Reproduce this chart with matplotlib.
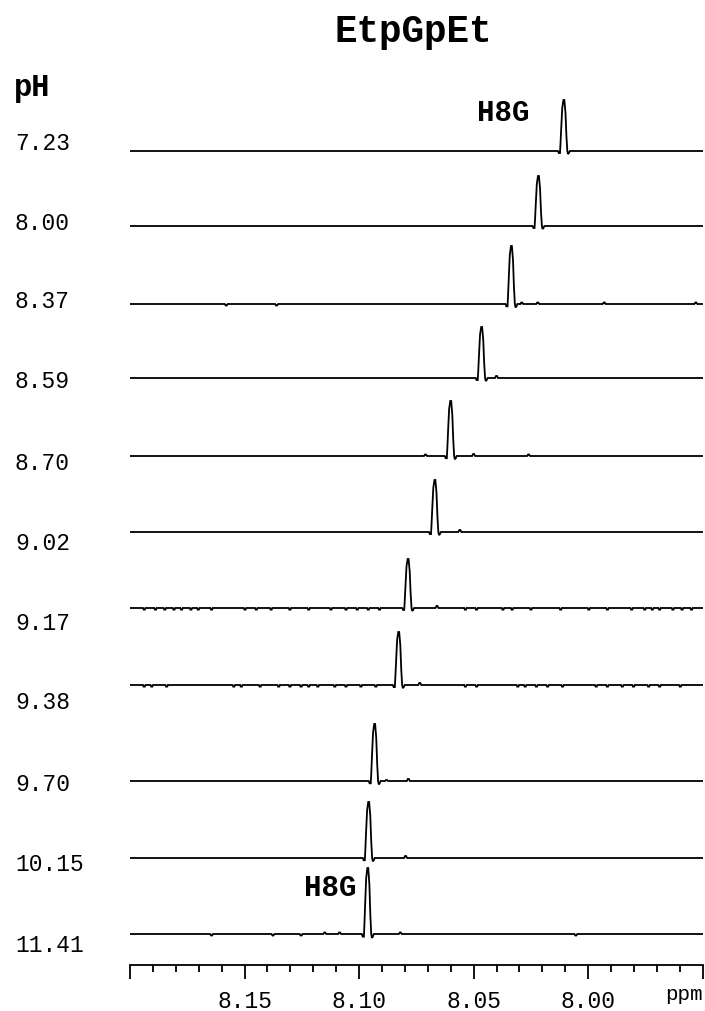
import matplotlib

matplotlib.use("Agg")

import matplotlib.pyplot as plt
from matplotlib.ticker import MultipleLocator, FuncFormatter

# pH of each spectrum, top to bottom
ph_labels = ["7.23", "8.00", "8.37", "8.59", "8.70", "9.02", "9.17", "9.38", "9.70", "10.15", "11.41"]

# H8G chemical shift (ppm) and peak height (px)
peak_ppm = [8.0106, 8.0217, 8.0335, 8.0465, 8.0600, 8.0669, 8.0786, 8.0827, 8.0932, 8.0958, 8.0962]
peak_height = [51, 50, 58, 51, 55, 52, 49, 53, 57, 56, 66]

# shared line shape of the peak: offset (ppm, toward high field) and relative height
shape_offset = [-0.0040, -0.0026, -0.0022, -0.0017, -0.0015, -0.0011, -0.0007, -0.0002,
                0.0002, 0.0007, 0.0011, 0.0015, 0.0018, 0.0022, 0.0026, 0.0040]
shape_level = [0.0, 0.0, -0.04, -0.04, 0.12, 0.50, 0.85, 1.0,
               1.0, 0.75, 0.30, 0.0, -0.06, -0.04, 0.0, 0.0]

# small satellite bumps (ppm, px; negative = dip) per spectrum
bumps = [
    [],
    [],
    [(8.158, -1.5), (8.136, -1.5), (8.029, 1.5), (8.022, 1.5), (7.993, 1.5), (7.953, 1.5)],
    [(8.040, 2.0)],
    [(8.071, 1.5), (8.050, 2.0), (8.026, 1.5)],
    [(8.056, 2.0)],
    [(8.066, 2.0)],
    [(8.0735, 2.0)],
    [(8.0880, 1.0), (8.0785, 2.0)],
    [(8.0797, 2.0)],
    [(8.1644, -1.5), (8.1376, -1.5), (8.1253, -1.5), (8.1150, 1.5), (8.1085, 1.5), (8.082, 1.5), (8.0054, -1.5)],
]

# digitisation noise dips along the baseline of the noisy spectra
noise_917 = [8.1938, 8.1889, 8.1848, 8.1808, 8.1775, 8.1734, 8.1702, 8.1644, 8.1498, 8.1449,
             8.1384, 8.1302, 8.1220, 8.1123, 8.1057, 8.1008, 8.0960, 8.0911, 8.0536, 8.0487,
             8.0372, 8.0332, 8.0250, 8.0120, 7.9997, 7.9916, 7.9810, 7.9753, 7.9720, 7.9688,
             7.9630, 7.9590, 7.9549]
noise_938 = [8.1938, 8.1905, 8.1840, 8.1547, 8.1514, 8.1432, 8.1351, 8.1302, 8.1253, 8.1220,
             8.1180, 8.1106, 8.1057, 8.0992, 8.0927, 8.0536, 8.0487, 8.0307, 8.0275, 8.0226,
             8.0177, 8.0112, 7.9965, 7.9916, 7.9851, 7.9802, 7.9736, 7.9688, 7.9598]

# layout in figure pixels (705 x 1012)
W, H = 705, 1012
AXIS_PX = 966
baseline_px = [152, 227, 305, 379, 457, 533, 609, 686, 782, 859, 935]
label_px = [143, 224, 302, 382, 463, 544, 623, 703, 785, 865, 946]

MONO = ["Liberation Mono", "DejaVu Sans Mono"]
PPM_PER_PX = 0.25 / 572.7


def build_trace(i):
    """Baseline with the H8G peak, small bumps and noise dips."""
    pts = [(8.20, 0.0), (7.95, 0.0)]
    for off, lev in zip(shape_offset, shape_level):
        pts.append((peak_ppm[i] - off, lev * peak_height[i]))
    for pos, amp in bumps[i]:
        pts += [(pos + 1.5 * PPM_PER_PX, 0.0), (pos + 0.5 * PPM_PER_PX, amp),
                (pos - 0.5 * PPM_PER_PX, amp), (pos - 1.5 * PPM_PER_PX, 0.0)]
    noise = noise_917 if i == 6 else noise_938 if i == 7 else []
    for pos in noise:
        pts += [(pos + 1.2 * PPM_PER_PX, 0.0), (pos + 0.6 * PPM_PER_PX, -1.6),
                (pos - 0.6 * PPM_PER_PX, -1.6), (pos - 1.2 * PPM_PER_PX, 0.0)]
    pts.sort(key=lambda p: -p[0])
    xs = [p[0] for p in pts]
    ys = [baseline_px[i] - p[1] for p in pts]
    return xs, ys


fig = plt.figure(figsize=(W / 100, H / 100), dpi=100)
ax = fig.add_axes([130 / W, (H - AXIS_PX) / H, 572.7 / W, AXIS_PX / H])
ax.set_xlim(8.20, 7.95)
ax.set_ylim(AXIS_PX, 0)

for i in range(len(ph_labels)):
    xs, ys = build_trace(i)
    ax.plot(xs, ys, color="black", linewidth=1.3, solid_joinstyle="miter")

for side in ["top", "right", "left"]:
    ax.spines[side].set_visible(False)
ax.spines["bottom"].set_linewidth(1.3)
ax.set_yticks([])

ax.xaxis.set_major_locator(MultipleLocator(0.05))
ax.xaxis.set_minor_locator(MultipleLocator(0.01))
ax.xaxis.set_major_formatter(FuncFormatter(
    lambda v, pos: "" if v > 8.175 or v < 7.975 else f"{v:.2f}"))
ax.tick_params(axis="x", which="major", length=10, width=1.3, pad=7)
ax.tick_params(axis="x", which="minor", length=5, width=1.3)
for lab in ax.get_xticklabels():
    lab.set_family(MONO)
    lab.set_fontsize(16.5)

ax.text(7.95, AXIS_PX + 29, "ppm", ha="right", va="center", family=MONO, fontsize=15)

# labels outside the axes, placed in figure pixels
def ftext(x, y, s, **kw):
    fig.text(x / W, 1 - y / H, s, family=MONO, **kw)


ftext(413, 32, "EtpGpEt", ha="center", va="center", fontsize=27, weight="bold")
ftext(14, 88, "pH", ha="left", va="center", fontsize=22, weight="bold")
for s, y in zip(ph_labels, label_px):
    ftext(15, y, s, ha="left", va="center", fontsize=16.5)

ftext(503, 113, "H8G", ha="center", va="center", fontsize=21, weight="bold")
ftext(330, 888, "H8G", ha="center", va="center", fontsize=21, weight="bold")

fig.savefig("out.png", dpi=100)
